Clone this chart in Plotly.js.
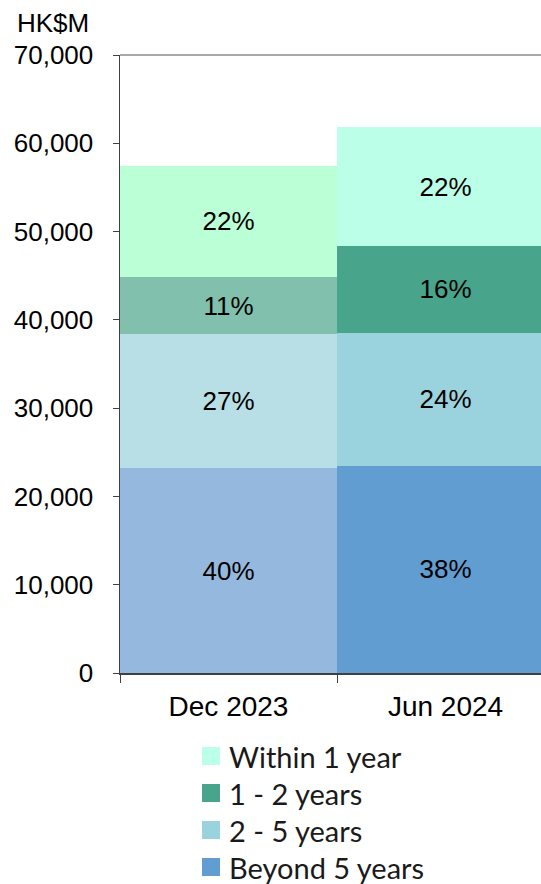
<!DOCTYPE html>
<html><head><meta charset="utf-8">
<script src="https://cdn.plot.ly/plotly-3.0.1.min.js"></script>
<style>html,body{margin:0;padding:0;background:#fff}#chart{width:541px;height:884px}</style>
</head><body><div id="chart"></div>
<script>
const categories = ["Dec 2023", "Jun 2024"];
const seriesNames = ["Beyond 5 years", "2 - 5 years", "1 - 2 years", "Within 1 year"];
const beyond5 = [23200, 23500];
const twoToFive = [15150, 15000];
const oneToTwo = [6500, 9900];
const within1 = [12600, 13400];
const beyond5Labels = ["40%", "38%"];
const twoToFiveLabels = ["27%", "24%"];
const oneToTwoLabels = ["11%", "16%"];
const within1Labels = ["22%", "22%"];
const yTicks = [0, 10000, 20000, 30000, 40000, 50000, 60000, 70000];
const yTickLabels = ["0", "10,000", "20,000", "30,000", "40,000", "50,000", "60,000", "70,000"];
const legendOrder = ["Within 1 year", "1 - 2 years", "2 - 5 years", "Beyond 5 years"];

const colors = {
  "Beyond 5 years": ["#95B9DE", "#629DD1"],
  "2 - 5 years": ["#B8DFE6", "#9AD3DE"],
  "1 - 2 years": ["#80C0AD", "#48A48A"],
  "Within 1 year": ["#BBFFD6", "#BBFFE8"]
};
const values = [beyond5, twoToFive, oneToTwo, within1];
const labels = [beyond5Labels, twoToFiveLabels, oneToTwoLabels, within1Labels];

const traces = seriesNames.map((name, i) => ({
  type: "bar", x: categories, y: values[i], name: name,
  marker: {color: colors[name], line: {width: 0}},
  text: labels[i], textposition: "inside", insidetextanchor: "middle",
  textfont: {family: "Liberation Sans, Arial", size: 26, color: "#000"},
  hoverinfo: "skip", showlegend: false
}));

// plot area in pixels: left 120, top 55, width 421, height 618
const PL = 120, PT = 55, PW = 421, PH = 618;
const px2x = px => (px - PL) / PW;
const py2y = py => (PT + PH - py) / PH;

const shapes = [{type: "line", xref: "paper", yref: "paper", x0: 0, x1: 1, y0: 1, y1: 1,
  line: {color: "#8c8c8c", width: 1.5}}];
const annotations = [{text: "HK$M", xref: "paper", yref: "paper", x: px2x(53), y: py2y(23),
  xanchor: "center", yanchor: "middle", showarrow: false,
  font: {family: "Liberation Sans, Arial", size: 26, color: "#000"}}];

legendOrder.forEach((name, k) => {
  const cy = 756 + 37 * k;
  shapes.push({type: "rect", xref: "paper", yref: "paper",
    x0: px2x(202), x1: px2x(220), y0: py2y(cy - 9), y1: py2y(cy + 9),
    fillcolor: colors[name][1], line: {width: 0}, layer: "above"});
  annotations.push({text: name, xref: "paper", yref: "paper",
    x: px2x(227), y: py2y(cy), xanchor: "left", yanchor: "middle", showarrow: false,
    font: {family: "Lato, Open Sans", size: 29, color: "#1a1a1a"}});
});

const layout = {
  width: 541, height: 884,
  margin: {l: PL, r: 541 - PL - PW, t: PT, b: 884 - PT - PH},
  paper_bgcolor: "#fff", plot_bgcolor: "#fff",
  barmode: "stack", bargap: 0,
  font: {family: "Liberation Sans, Arial", size: 26, color: "#000"},
  xaxis: {
    type: "category", range: [-0.5, 1.44],
    showline: true, linecolor: "#404040", linewidth: 1.5,
    ticks: "outside", tickson: "boundaries", ticklen: 8, tickcolor: "#404040",
    ticklabelstandoff: 8, showgrid: false, zeroline: false,
    tickfont: {size: 28, color: "#000"}
  },
  yaxis: {
    range: [0, 70000], tickvals: yTicks, ticktext: yTickLabels,
    showline: true, linecolor: "#404040", linewidth: 1.5,
    ticks: "outside", ticklen: 6, tickcolor: "#404040",
    ticklabelstandoff: 14, showgrid: false, zeroline: false,
    tickfont: {size: 26, color: "#000"}
  },
  showlegend: false,
  shapes: shapes,
  annotations: annotations
};
Plotly.newPlot("chart", traces, layout, {staticPlot: true, displayModeBar: false});
</script></body></html>
